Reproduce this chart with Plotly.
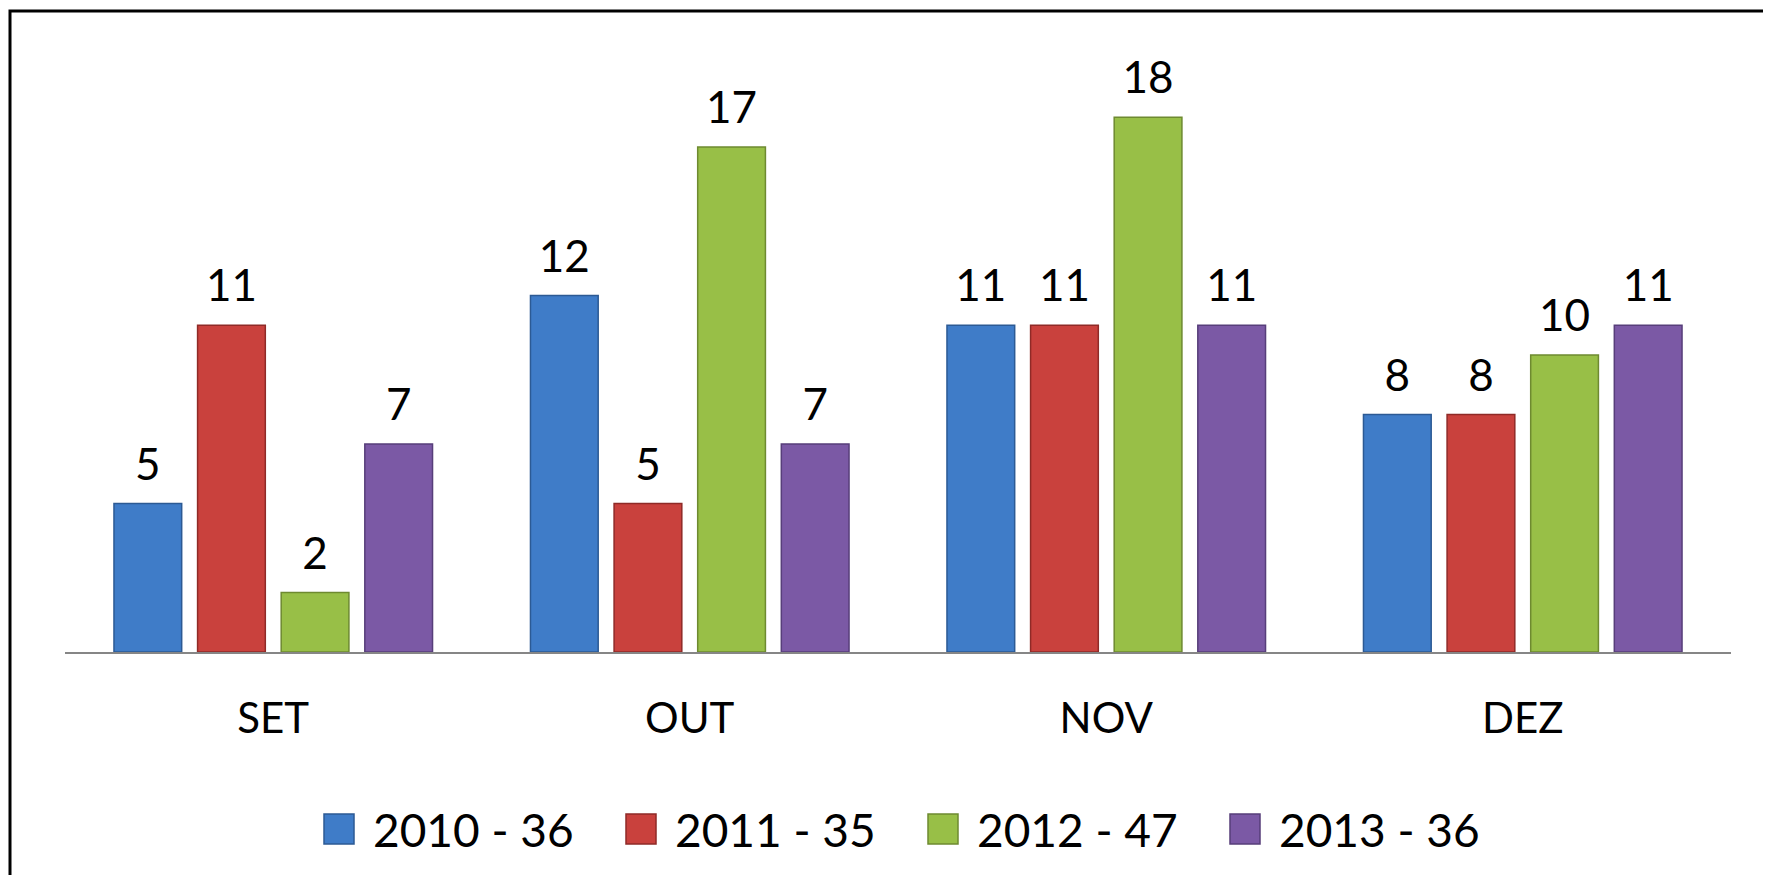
import plotly.graph_objects as go

months = ["SET", "OUT", "NOV", "DEZ"]
series_names = ["2010 - 36", "2011 - 35", "2012 - 47", "2013 - 36"]
values_2010 = [5, 12, 11, 8]
values_2011 = [11, 5, 11, 8]
values_2012 = [2, 17, 18, 10]
values_2013 = [7, 7, 11, 11]

all_values = [values_2010, values_2011, values_2012, values_2013]
fills = ["#3f7cc8", "#c9413d", "#98bf47", "#7b59a5"]
edges = ["#2c5a94", "#8f2a27", "#6e8a30", "#573e7a"]

FONT = "Lato, 'Open Sans', sans-serif"
GAP = 0.197

# plot area in figure pixels (page body adds an 8px offset, compensated here)
W, H = 1771, 875
ML, MR, MT, MB = 57, 48, 44, 231
PW, PH = W - ML - MR, H - MT - MB


def px_x(x):
    return (x - ML) / PW


def px_y(y):
    return (H - MB - y) / PH


fig = go.Figure()

for i, (name, vals) in enumerate(zip(series_names, all_values)):
    fig.add_trace(
        go.Bar(
            x=months,
            y=vals,
            name=name,
            offsetgroup=str(i),
            showlegend=False,
            marker=dict(color=fills[i], line=dict(color=edges[i], width=1.5)),
        )
    )

# value labels, as text-only scatter traces grouped like the bars
for i, vals in enumerate(all_values):
    fig.add_trace(
        go.Scatter(
            x=months,
            y=vals,
            mode="markers+text",
            text=[str(v) for v in vals],
            textposition="top center",
            textfont=dict(family=FONT, size=44, color="#000000"),
            marker=dict(size=19, opacity=0),
            offsetgroup=str(i),
            orientation="v",
            showlegend=False,
            hoverinfo="skip",
        )
    )

# legend drawn by hand to get the large square keys
for i, name in enumerate(series_names):
    left = 316 + 302 * i
    fig.add_shape(
        type="rect", xref="paper", yref="paper",
        x0=px_x(left), x1=px_x(left + 30),
        y0=px_y(836), y1=px_y(806),
        fillcolor=fills[i], line=dict(color=edges[i], width=1.5),
    )
    fig.add_annotation(
        xref="paper", yref="paper",
        x=px_x(left + 47), y=px_y(821),
        xanchor="left", yanchor="middle",
        text=name, showarrow=False,
        font=dict(family=FONT, size=46, color="#000000"),
    )

# outer chart border (only top/left visible in the crop)
fig.add_shape(
    type="rect", xref="paper", yref="paper",
    x0=px_x(2), x1=px_x(W + 20), y0=px_y(H + 40), y1=px_y(3),
    line=dict(color="#000000", width=3),
)

fig.update_layout(
    width=W,
    height=H,
    barmode="group",
    bargap=GAP,
    bargroupgap=0.19,
    scattermode="group",
    scattergap=GAP,
    showlegend=False,
    paper_bgcolor="#ffffff",
    plot_bgcolor="#ffffff",
    margin=dict(l=ML, r=MR, t=MT, b=MB),
    font=dict(family=FONT, size=42, color="#000000"),
)
fig.update_xaxes(
    showline=True, linecolor="#868686", linewidth=2,
    ticks="outside", ticklen=29, tickcolor="rgba(0,0,0,0)",
    tickfont=dict(family=FONT, size=42),
    showgrid=False, zeroline=False,
)
fig.update_yaxes(range=[0, 20.2], visible=False, showgrid=False)

fig.write_html("out.html")
